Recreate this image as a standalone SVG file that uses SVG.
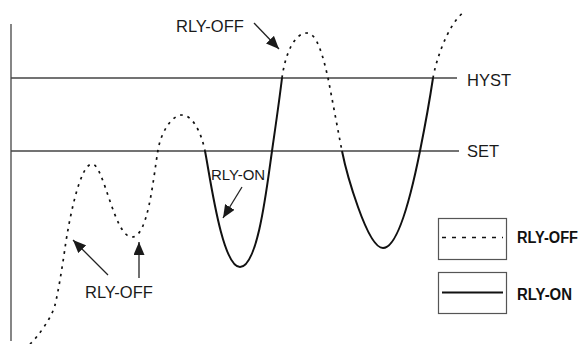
<svg xmlns="http://www.w3.org/2000/svg" width="584" height="344" viewBox="0 0 584 344">
<style>
.lbl{font-family:"Liberation Sans",Arial,Helvetica,sans-serif;font-size:16.5px;fill:#1a1a1a}
.leg{font-family:"Liberation Sans",Arial,Helvetica,sans-serif;font-size:16px;font-weight:bold;fill:#111}
.ref{stroke:#444;stroke-width:1.3;fill:none}
.dot{stroke:#111;stroke-width:1.7;fill:none;stroke-dasharray:2.6 5}
.sol{stroke:#111;stroke-width:2;fill:none}
.arr{stroke:#222;stroke-width:1.3;fill:none;marker-end:url(#ah)}
.box{stroke:#555;stroke-width:1.2;fill:#fff}
</style>
<defs>
<marker id="ah" viewBox="0 0 13 11" refX="13" refY="5.5" markerWidth="13" markerHeight="11" markerUnits="userSpaceOnUse" orient="auto">
<path d="M0,0 L13,5.5 L0,11 z" fill="#1a1a1a"/>
</marker>
</defs>
<rect width="584" height="344" fill="#fff"/>
<g id="axis"><line class="ref" x1="11" y1="24" x2="11" y2="341"/></g>
<g id="hyst">
<line class="ref" x1="11" y1="78" x2="457" y2="78"/>
<text class="lbl" x="467" y="86">HYST</text>
</g>
<g id="set">
<line class="ref" x1="11" y1="151" x2="459" y2="151"/>
<text class="lbl" x="467" y="157">SET</text>
</g>
<g id="waveform">
<path class="dot" d="M30,344 C38,337 52,317 55,305 C58,293 62,269 65,248 C69,220 80,164 92,164 C104,164 114,237 132,237 C148,237 153,180 158,150 C161,132 172,115 182,115 C192,115 201,131 205,151"/>
<path class="sol" d="M205,151 C210,176 222,267 240,267 C258,267 267,186 272,151 C276,123 279,103 282,78"/>
<path class="dot" d="M282,78 C285,55 294,33 307,33 C317,33 323,56 328,78 C332,98 338,131 342,151"/>
<path class="sol" d="M342,151 C346,171 367,248 383,248 C400,248 414,181 420,151 C424,131 430,98 433,78"/>
<path class="dot" d="M433,78 C436,60 448,24 464,12"/>
</g>
<g id="label-off-top"><text class="lbl" x="176" y="32">RLY-OFF</text></g>
<g id="label-on"><text class="lbl" x="211" y="180" style="font-size:15px">RLY-ON</text></g>
<g id="label-off-bottom"><text class="lbl" x="85" y="298">RLY-OFF</text></g>
<g id="connectors">
<line class="arr" x1="254" y1="23" x2="279" y2="49"/>
<line class="arr" x1="242" y1="187" x2="223" y2="218"/>
<line class="arr" x1="108" y1="275" x2="73" y2="240"/>
<line class="arr" x1="139" y1="278" x2="139" y2="242"/>
</g>
<g id="legend-off">
<rect class="box" x="438.5" y="218.5" width="68" height="41"/>
<line x1="442" y1="237.5" x2="503" y2="237.5" stroke="#111" stroke-width="1.6" stroke-dasharray="4 6"/>
<text class="leg" x="517" y="243" textLength="61" lengthAdjust="spacingAndGlyphs">RLY-OFF</text>
</g>
<g id="legend-on">
<rect class="box" x="438.5" y="272.5" width="68" height="41"/>
<line x1="442" y1="292.5" x2="503" y2="292.5" stroke="#111" stroke-width="2"/>
<text class="leg" x="517" y="300" textLength="55" lengthAdjust="spacingAndGlyphs">RLY-ON</text>
</g>
</svg>
